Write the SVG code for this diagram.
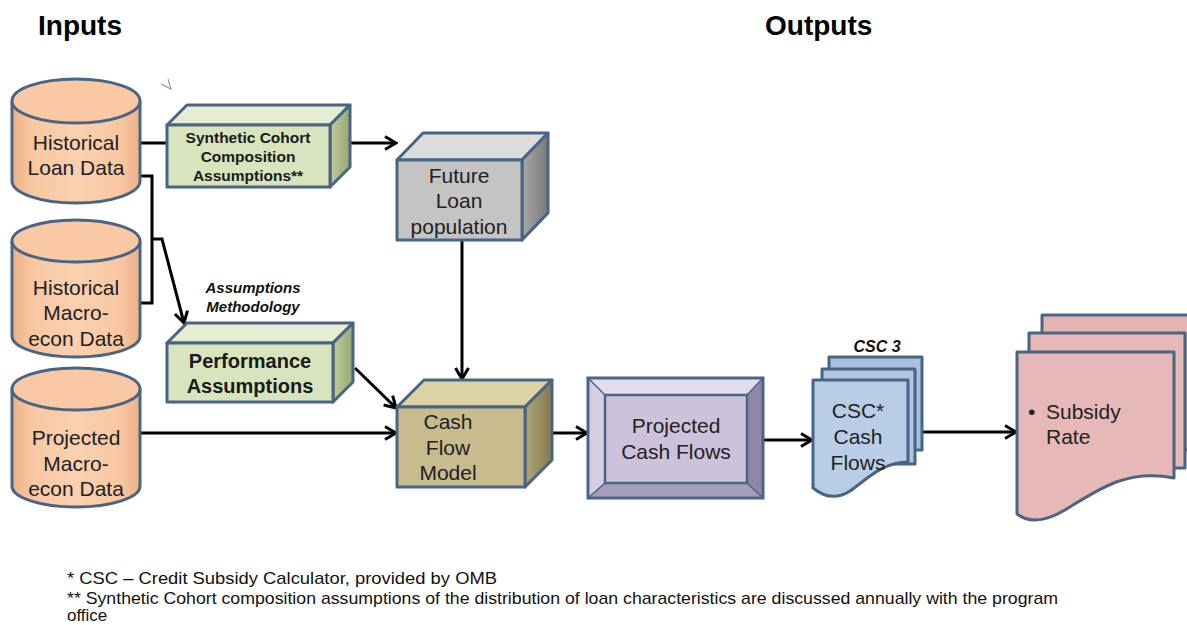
<svg xmlns="http://www.w3.org/2000/svg" width="1187" height="625" viewBox="0 0 1187 625">
<defs>
<style>
text{font-family:"Liberation Sans",Arial,sans-serif;fill:#222;}
.t21{font-size:21px;text-anchor:middle;}
.hd{font-size:28px;font-weight:bold;fill:#000;}
.bx{stroke:#4A6584;stroke-width:3;stroke-linejoin:round;}
.cyl{fill:url(#gPeach);stroke:#4A6584;stroke-width:3;}
.cylTop{fill:#F9C9A6;stroke:#4A6584;stroke-width:3;}
.con{fill:none;stroke:#000;stroke-width:3;}
.arr{marker-end:url(#ah);}
.lbl{font-size:15px;font-weight:bold;font-style:italic;fill:#111;text-anchor:middle;}
.fn{font-size:17px;fill:#111;}
.doc{stroke:#4A6584;stroke-width:3;stroke-linejoin:round;}
.bt{font-weight:bold;text-anchor:middle;fill:#1a1a1a;}
</style>
<linearGradient id="gPeach" x1="0" y1="0" x2="1" y2="0">
<stop offset="0" stop-color="#EDB087"/>
<stop offset="0.15" stop-color="#F8C7A2"/>
<stop offset="0.5" stop-color="#FAD0B0"/>
<stop offset="0.85" stop-color="#F8C7A2"/>
<stop offset="1" stop-color="#EDB087"/>
</linearGradient>
<linearGradient id="gGreenSide" x1="0" y1="0" x2="1" y2="0">
<stop offset="0" stop-color="#C0CD9F"/>
<stop offset="1" stop-color="#97A672"/>
</linearGradient>
<linearGradient id="gGraySide" x1="0" y1="0" x2="1" y2="0">
<stop offset="0" stop-color="#A8A8A8"/>
<stop offset="1" stop-color="#7A7A7A"/>
</linearGradient>
<linearGradient id="gTanSide" x1="0" y1="0" x2="1" y2="0">
<stop offset="0" stop-color="#B0A575"/>
<stop offset="1" stop-color="#847A50"/>
</linearGradient>
<marker id="ah" markerUnits="userSpaceOnUse" markerWidth="16" markerHeight="16" viewBox="0 0 16 16" refX="14" refY="8" orient="auto">
<path d="M3,1.5 L14,8 L3,14.5" fill="none" stroke="#000" stroke-width="3" stroke-linejoin="miter"/>
</marker>
</defs>
<rect width="1187" height="625" fill="#fff"/>

<text class="hd" x="38" y="35">Inputs</text>
<text class="hd" x="765" y="35">Outputs</text>

<path d="M161,84 L171,89 L168,79" fill="none" stroke="#8A9AB0" stroke-width="1.2"/>

<g id="connectors">
<path class="con" d="M140,143 H167"/>
<path class="con arr" d="M340,143 H396"/>
<path class="con" d="M140,176 H152 V303 H140"/>
<path class="con arr" d="M152,239 H162 L184,323"/>
<path class="con arr" d="M462,240 V379"/>
<path class="con arr" d="M355,368 L396,408"/>
<path class="con arr" d="M140,433 H396"/>
<path class="con arr" d="M525,433 H587"/>
<path class="con arr" d="M763,440 H812"/>
<path class="con arr" d="M921,432 H1016"/>
</g>

<g id="hist-loan">
<path class="cyl" d="M12,101 V181 A64,22 0 0 0 140,181 V101"/>
<ellipse class="cylTop" cx="76" cy="101" rx="64" ry="22"/>
<text class="t21" x="76" y="150">Historical</text>
<text class="t21" x="76" y="175">Loan Data</text>
</g>

<g id="hist-macro">
<path class="cyl" d="M12,241 V336 A64,21 0 0 0 140,336 V241"/>
<ellipse class="cylTop" cx="76" cy="241" rx="64" ry="21"/>
<text class="t21" x="76" y="295">Historical</text>
<text class="t21" x="76" y="320">Macro-</text>
<text class="t21" x="76" y="346">econ Data</text>
</g>

<g id="proj-macro">
<path class="cyl" d="M12,389 V486 A64,21 0 0 0 140,486 V389"/>
<ellipse class="cylTop" cx="76" cy="389" rx="64" ry="21"/>
<text class="t21" x="76" y="445">Projected</text>
<text class="t21" x="76" y="471">Macro-</text>
<text class="t21" x="76" y="496">econ Data</text>
</g>

<g id="synthetic">
<polygon class="bx" points="167,125 187,105 350,105 330,125" fill="#E5EDD3"/>
<polygon class="bx" points="330,125 350,105 350,167 330,187" fill="url(#gGreenSide)"/>
<rect class="bx" x="167" y="125" width="163" height="62" fill="#D8E4BE"/>
<text class="bt" x="248" y="143" style="font-size:15.5px">Synthetic Cohort</text>
<text class="bt" x="248" y="162" style="font-size:15.5px">Composition</text>
<text class="bt" x="248" y="181" style="font-size:15.5px">Assumptions**</text>
</g>

<g id="methodology-label">
<text class="lbl" x="253" y="293">Assumptions</text>
<text class="lbl" x="253" y="312">Methodology</text>
</g>

<g id="performance">
<polygon class="bx" points="167,343 187,323 353,323 333,343" fill="#E5EDD3"/>
<polygon class="bx" points="333,343 353,323 353,382 333,402" fill="url(#gGreenSide)"/>
<rect class="bx" x="167" y="343" width="166" height="59" fill="#D8E4BE"/>
<text class="bt" x="250" y="368" style="font-size:20px">Performance</text>
<text class="bt" x="250" y="393" style="font-size:20px">Assumptions</text>
</g>

<g id="future-loan">
<polygon class="bx" points="397,160 423,133 548,133 522,160" fill="#DCDCDC"/>
<polygon class="bx" points="522,160 548,133 548,213 522,240" fill="url(#gGraySide)"/>
<rect class="bx" x="397" y="160" width="125" height="80" fill="#C4C4C4"/>
<text class="t21" x="459" y="183">Future</text>
<text class="t21" x="459" y="208">Loan</text>
<text class="t21" x="459" y="234">population</text>
</g>

<g id="cash-flow-model">
<polygon class="bx" points="397,407 424,380 552,380 525,407" fill="#DCD2A6"/>
<polygon class="bx" points="525,407 552,380 552,460 525,487" fill="url(#gTanSide)"/>
<rect class="bx" x="397" y="407" width="128" height="80" fill="#C8BC8E"/>
<text class="t21" x="448" y="429">Cash</text>
<text class="t21" x="448" y="455">Flow</text>
<text class="t21" x="448" y="480">Model</text>
</g>

<g id="projected-cash-flows">
<polygon points="588,378 763,378 747,395 605,395" fill="#E2DCEC"/>
<polygon points="588,378 605,395 605,483 588,498" fill="#D6CEE2"/>
<polygon points="763,378 763,498 747,483 747,395" fill="#8F87A4"/>
<polygon points="588,498 605,483 747,483 763,498" fill="#A69EB8"/>
<rect x="605" y="395" width="142" height="88" fill="#CCC2DB" stroke="#4A6584" stroke-width="2.5"/>
<rect x="588" y="378" width="175" height="120" fill="none" stroke="#4A6584" stroke-width="3"/>
<path d="M588,378 L605,395 M763,378 L747,395 M588,498 L605,483 M763,498 L747,483" stroke="#4A6584" stroke-width="1.5"/>
<text class="t21" x="676" y="433">Projected</text>
<text class="t21" x="676" y="459">Cash Flows</text>
</g>

<g id="csc-cash-flows">
<text class="lbl" x="877" y="352" style="font-size:16px">CSC 3</text>
<rect class="doc" x="829" y="357" width="93" height="93" fill="#A9C0DE"/>
<rect class="doc" x="822" y="369" width="93" height="95" fill="#B0C6E2"/>
<path class="doc" d="M813,380 H908 V462 C882,462 866,480 850,491 C836,500 824,497 813,488 Z" fill="#B9CDE6"/>
<text class="t21" x="858" y="418">CSC*</text>
<text class="t21" x="858" y="444">Cash</text>
<text class="t21" x="858" y="470">Flows</text>
</g>

<g id="subsidy-rate">
<rect class="doc" x="1042" y="315" width="160" height="135" fill="#E4B4B3"/>
<rect class="doc" x="1029" y="333" width="156" height="135" fill="#E6B8B7"/>
<path class="doc" d="M1017,352 H1174 V478 C1125,468 1095,492 1065,510 C1048,520 1030,524 1017,514 Z" fill="#E6B9B8"/>
<text x="1028" y="419" style="font-size:21px;fill:#222">•</text>
<text x="1046" y="419" style="font-size:21px;fill:#222">Subsidy</text>
<text x="1046" y="444" style="font-size:21px;fill:#222">Rate</text>
</g>

<g id="footnotes">
<text class="fn" x="67" y="584" textLength="430" lengthAdjust="spacingAndGlyphs">* CSC – Credit Subsidy Calculator, provided by OMB</text>
<text class="fn" x="67" y="604" textLength="991" lengthAdjust="spacingAndGlyphs">** Synthetic Cohort composition assumptions of the distribution of loan characteristics are discussed annually with the program</text>
<text class="fn" x="67" y="621">office</text>
</g>
</svg>
